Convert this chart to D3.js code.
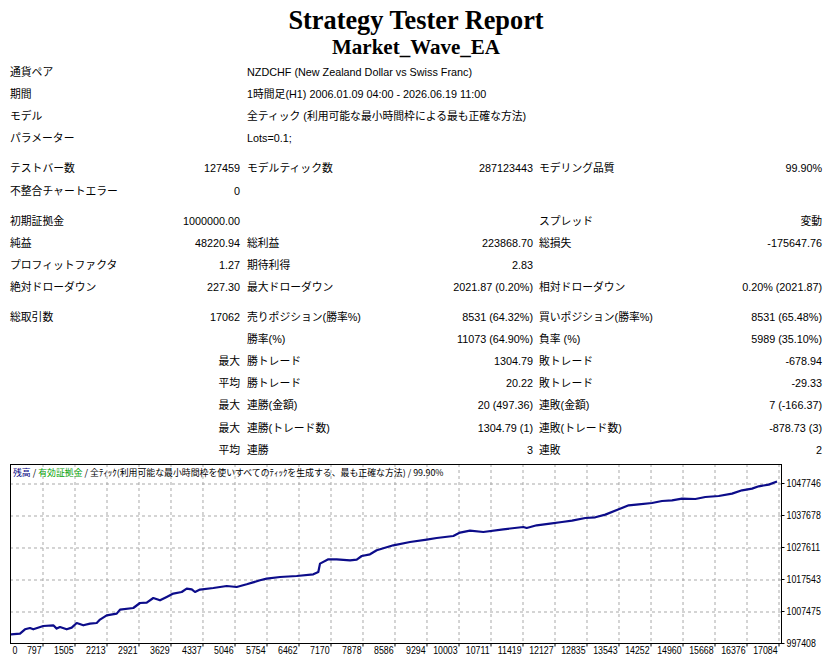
<!DOCTYPE html>
<html>
<head>
<meta charset="utf-8">
<script src="https://cdn.jsdelivr.net/npm/d3@7"></script>
<style>
  body { margin: 0; background: #fff; }
</style>
</head>
<body>
<div id="chart"></div>
<script>
// report header
const reportTitle = "Strategy Tester Report";
const expertName = "Market_Wave_EA";

// table rows, six cells each: label, value, label, value, label, value
const infoRows = [
  ["通貨ペア", "", "NZDCHF (New Zealand Dollar vs Swiss Franc)", "", "", ""],
  ["期間", "", "1時間足(H1) 2006.01.09 04:00 - 2026.06.19 11:00", "", "", ""],
  ["モデル", "", "全ティック (利用可能な最小時間枠による最も正確な方法)", "", "", ""],
  ["パラメーター", "", "Lots=0.1;", "", "", ""],
];
const testRows = [
  ["テストバー数", "127459", "モデルティック数", "287123443", "モデリング品質", "99.90%"],
  ["不整合チャートエラー", "0", "", "", "", ""],
];
const profitRows = [
  ["初期証拠金", "1000000.00", "", "", "スプレッド", "変動"],
  ["純益", "48220.94", "総利益", "223868.70", "総損失", "-175647.76"],
  ["プロフィットファクタ", "1.27", "期待利得", "2.83", "", ""],
  ["絶対ドローダウン", "227.30", "最大ドローダウン", "2021.87 (0.20%)", "相対ドローダウン", "0.20% (2021.87)"],
];
const tradeRows = [
  ["総取引数", "17062", "売りポジション(勝率%)", "8531 (64.32%)", "買いポジション(勝率%)", "8531 (65.48%)"],
  ["", "", "勝率(%)", "11073 (64.90%)", "負率 (%)", "5989 (35.10%)"],
  ["", "最大", "勝トレード", "1304.79", "敗トレード", "-678.94"],
  ["", "平均", "勝トレード", "20.22", "敗トレード", "-29.33"],
  ["", "最大", "連勝(金額)", "20 (497.36)", "連敗(金額)", "7 (-166.37)"],
  ["", "最大", "連勝(トレード数)", "1304.79 (1)", "連敗(トレード数)", "-878.73 (3)"],
  ["", "平均", "連勝", "3", "連敗", "2"],
];

// chart legend pieces
const legendParts = ["残高", " / ", "有効証拠金", " / ", "全ﾃｨｯｸ(利用可能な最小時間枠を使いすべてのﾃｨｯｸを生成する、最も正確な方法) / 99.90%"];

// axis tick labels
const xTickLabels = [0, 797, 1505, 2213, 2921, 3629, 4337, 5046, 5754, 6462, 7170, 7878, 8586,
  9294, 10003, 10711, 11419, 12127, 12835, 13543, 14252, 14960, 15668, 16376, 17084];
const yTickLabels = [997408, 1007475, 1017543, 1027611, 1037678, 1047746];

// balance curve (trade number, balance)
const equityTrades = [0, 310, 420, 531, 604, 825, 1047, 1122, 1195, 1343,
  1454, 1565, 1711, 1859, 2007, 2080, 2228, 2450, 2523, 2817,
  2965, 3114, 3260, 3408, 3556, 3703, 3888, 3999, 4110, 4183,
  4293, 4588, 4884, 5105, 5327, 5621, 5769, 6064, 6433, 6801,
  6911, 6949, 7133, 7318, 7613, 7761, 7872, 8055, 8204, 8571,
  8941, 9310, 9531, 9899, 10047, 10268, 10563, 11005, 11448, 11523,
  11744, 12039, 12304, 12526, 12820, 13041, 13263, 13559, 13780, 14002,
  14296, 14517, 14739, 14960, 15255, 15476, 15772, 16067, 16288, 16510,
  16658, 16879, 17062];
const equityBalance = [1000000, 1000365, 1001718, 1002127, 1001718, 1002756, 1002976, 1001938, 1002442, 1001718,
  1002253, 1003700, 1002976, 1003511, 1003700, 1004770, 1006122, 1006657, 1007916, 1008419,
  1009992, 1010118, 1011565, 1010841, 1011880, 1012949, 1013453, 1014522, 1014302, 1013453,
  1014208, 1014711, 1015340, 1015026, 1015875, 1017133, 1017668, 1018172, 1018486, 1019021,
  1019745, 1022387, 1023740, 1023740, 1023425, 1023646, 1024778, 1025313, 1026571, 1028144,
  1029183, 1029938, 1030441, 1031070, 1032140, 1032769, 1032329, 1033178, 1033902, 1033587,
  1034436, 1034971, 1035475, 1035915, 1036733, 1036953, 1037803, 1039470, 1040728, 1041043,
  1041452, 1042081, 1042302, 1042836, 1042710, 1043340, 1043654, 1044409, 1045447, 1045982,
  1046706, 1047241, 1048221];

// look of the page
const settings = {
  width: 832,
  height: 664,
  parentId: "chart",
  tableFont: "'Liberation Sans', 'Noto Sans CJK JP', sans-serif",
  tableFontSize: 10.8,
  firstRowY: 72, // centre of the first table row
  rowStep: 22.1,
  groupGap: 8,
  columns: [10, 240, 247, 533, 539, 822], // x of each of the six cells
  plot: { left: 10, right: 781, top: 464, bottom: 643 },
  lineColor: "#0c0c8a",
  gridColor: "#a9a9a9",
  axisFont: "'Liberation Sans', sans-serif",
  axisSquash: 0.84, // the axis digits are narrow in the original
};

function drawReport(settings) {
  d3.select(`#${settings.parentId}`).selectAll("svg").remove();

  const svg = d3
    .select(`#${settings.parentId}`)
    .append("svg")
    .attr("width", settings.width)
    .attr("height", settings.height);

  // titles
  svg.append("text")
    .attr("x", 416).attr("y", 29)
    .attr("text-anchor", "middle")
    .style("font-family", "'Liberation Serif', serif")
    .style("font-weight", "bold")
    .style("font-size", "26.3px")
    .text(reportTitle);
  svg.append("text")
    .attr("x", 416).attr("y", 54)
    .attr("text-anchor", "middle")
    .style("font-family", "'Liberation Serif', serif")
    .style("font-weight", "bold")
    .style("font-size", "21px")
    .text(expertName);

  // table: groups of rows with a small gap in between
  const groups = [infoRows, testRows, profitRows, tradeRows];
  const rows = [];
  let yPos = settings.firstRowY;
  groups.forEach((g, gi) => {
    if (gi > 0) yPos += settings.groupGap;
    g.forEach((r) => {
      rows.push({ cells: r, y: yPos });
      yPos += settings.rowStep;
    });
  });

  const rowGroups = svg.append("g").attr("class", "table")
    .selectAll("g")
    .data(rows)
    .enter()
    .append("g")
    .attr("transform", (d) => `translate(0,${d.y + 4})`);

  rowGroups
    .selectAll("text")
    .data((d) => d.cells.map((c, i) => ({ text: c, col: i })).filter((c) => c.text !== ""))
    .enter()
    .append("text")
    .attr("x", (d) => settings.columns[d.col])
    .attr("text-anchor", (d) => (d.col % 2 === 1 ? "end" : "start"))
    .style("font-family", settings.tableFont)
    .style("font-size", settings.tableFontSize + "px")
    .style("fill", "#000")
    .text((d) => d.text);

  // chart
  const p = settings.plot;
  const x = d3.scaleLinear().domain([0, 17084]).range([6, 778]);
  const y = d3.scaleLinear().domain([997408, 1047746]).range([643, 483]);

  const chart = svg.append("g").attr("class", "chart");

  // dashed grid, drawn as long axis ticks
  const gridX = chart.append("g")
    .attr("transform", `translate(0.5,${p.top})`)
    .call(d3.axisTop(x).tickValues(xTickLabels.slice(1)).tickSize(-(p.bottom - p.top)).tickFormat(""));
  const gridY = chart.append("g")
    .attr("transform", `translate(${p.left},0.5)`)
    .call(d3.axisLeft(y).tickValues(yTickLabels.slice(1)).tickSize(-(p.right - p.left)).tickFormat(""));
  [gridX, gridY].forEach((g) => {
    g.select(".domain").remove();
    g.selectAll(".tick line")
      .attr("stroke", settings.gridColor)
      .attr("stroke-dasharray", "3,3");
  });

  // frame
  chart.append("rect")
    .attr("x", p.left + 0.5)
    .attr("y", p.top + 0.5)
    .attr("width", p.right - p.left)
    .attr("height", p.bottom - p.top)
    .style("fill", "none")
    .style("stroke", "#000");

  // balance line
  chart.append("clipPath").attr("id", "plot-clip")
    .append("rect")
    .attr("x", p.left + 1).attr("y", p.top + 1)
    .attr("width", p.right - p.left).attr("height", p.bottom - p.top - 1);

  const points = equityTrades.map((t, i) => [t, equityBalance[i]]);
  chart.append("path")
    .datum(points)
    .attr("clip-path", "url(#plot-clip)")
    .attr("d", d3.line().x((d) => x(d[0])).y((d) => y(d[1])))
    .style("fill", "none")
    .style("stroke", settings.lineColor)
    .style("stroke-width", 2.2)
    .style("stroke-linejoin", "round");

  // x axis
  const xAxis = chart.append("g")
    .attr("transform", `translate(0,${p.bottom + 0.5})`)
    .call(d3.axisBottom(x).tickValues(xTickLabels).tickSize(3).tickFormat((d) => d));
  xAxis.select(".domain").remove();
  xAxis.selectAll(".tick line").attr("transform", "translate(0.5,0)")
    .style("display", (d) => (d === 0 ? "none" : null));
  xAxis.selectAll(".tick text")
    .attr("y", 11)
    .attr("dy", 0)
    .attr("x", (d) => (d === 0 ? 6 / settings.axisSquash : -1))
    .attr("transform", `scale(${settings.axisSquash},1)`)
    .attr("text-anchor", (d) => (d === 0 ? "start" : "end"))
    .style("font-family", settings.axisFont)
    .style("font-size", "10.5px")
    .style("fill", "#000");

  // y axis on the right
  const yAxis = chart.append("g")
    .attr("transform", `translate(${p.right + 0.5},0)`)
    .call(d3.axisRight(y).tickValues(yTickLabels).tickSize(3).tickFormat((d) => d));
  yAxis.select(".domain").remove();
  yAxis.selectAll(".tick text")
    .attr("x", 5 / settings.axisSquash)
    .attr("transform", `scale(${settings.axisSquash},1)`)
    .style("font-family", settings.axisFont)
    .style("font-size", "10.5px")
    .style("fill", "#000");

  // legend line at the top of the chart
  const legend = chart.append("text")
    .attr("x", 13)
    .attr("y", 476)
    .style("font-family", "'Noto Sans CJK JP', sans-serif")
    .style("font-size", "8.9px");
  legend.selectAll("tspan")
    .data(legendParts)
    .enter()
    .append("tspan")
    .style("fill", (d, i) => (i === 0 ? "#000080" : i === 2 ? "#00a000" : "#000"))
    .text((d) => d);
}

drawReport(settings);
</script>
</body>
</html>
